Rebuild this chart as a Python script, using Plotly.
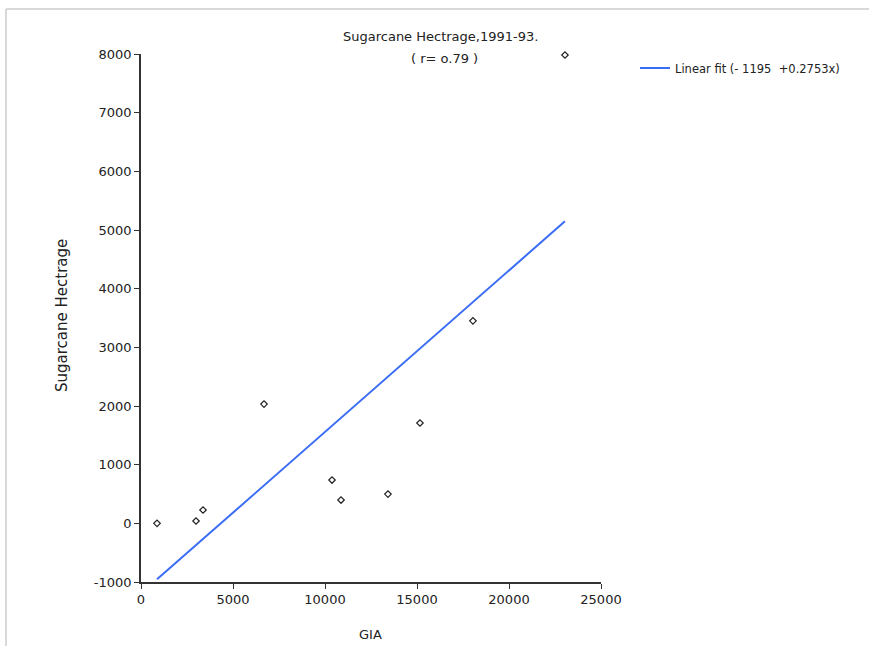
import plotly.graph_objects as go

# Data
gia = [870, 2990, 3370, 6685, 10380, 10870, 13420, 15160, 18040, 23040]
hectrage = [0, 40, 227, 2033, 738, 397, 499, 1710, 3451, 7983]

fit_x = [870, 23040]
fit_y = [-955, 5148]

x_ticks = [0, 5000, 10000, 15000, 20000, 25000]
x_labels = ["0", "5000", "10000", "15000", "20000", "25000"]
y_ticks = [-1000, 0, 1000, 2000, 3000, 4000, 5000, 6000, 7000, 8000]
y_labels = ["-1000", "0", "1000", "2000", "3000", "4000", "5000", "6000", "7000", "8000"]

W, H = 869, 646
L, R, T, B = 141, 601, 54, 582

def px(xp):
    return (xp - L) / (R - L)

def py(yp):
    return (B - yp) / (B - T)

font = "DejaVu Sans, Arial, sans-serif"

fig = go.Figure()
fig.add_trace(go.Scatter(
    x=fit_x, y=fit_y, mode="lines",
    line=dict(color="#3a6cf4", width=2),
    name="Linear fit (- 1195  +0.2753x)",
    showlegend=True, cliponaxis=False,
))
fig.add_trace(go.Scatter(
    x=gia, y=hectrage, mode="markers",
    marker=dict(symbol="diamond-open", size=5, color="#222222", line=dict(width=1.2, color="#222222")),
    showlegend=False, cliponaxis=False,
))

fig.update_layout(
    width=W, height=H,
    margin=dict(l=L, r=W - R, t=T, b=H - B, pad=0),
    paper_bgcolor="white", plot_bgcolor="white",
    font=dict(family=font, size=12, color="#222222"),
    xaxis=dict(range=[0, 25000], tickvals=x_ticks, ticktext=x_labels, ticks="outside", ticklen=5,
               tickcolor="#333333", showline=True, linecolor="#333333", linewidth=1.5,
               showgrid=False, zeroline=False, tickfont=dict(size=13)),
    yaxis=dict(range=[-1000, 8000], tickvals=y_ticks, ticktext=y_labels, ticks="outside", ticklen=5,
               tickcolor="#333333", showline=True, linecolor="#333333", linewidth=1.5,
               showgrid=False, zeroline=False, tickfont=dict(size=13)),
    legend=dict(x=px(635), y=py(68), xanchor="left", yanchor="middle",
                bgcolor="rgba(0,0,0,0)", font=dict(size=11.5), itemwidth=30,
                tracegroupgap=0),
    showlegend=True,
)

fig.add_annotation(text="Sugarcane Hectrage,1991-93.", x=px(440), y=py(37), xref="paper", yref="paper",
                   showarrow=False, xanchor="center", yanchor="middle", font=dict(size=13))
fig.add_annotation(text="( r= o.79 )", x=px(444), y=py(58), xref="paper", yref="paper",
                   showarrow=False, xanchor="center", yanchor="middle", font=dict(size=13))
fig.add_annotation(text="Sugarcane Hectrage", x=px(62), y=py(316), xref="paper", yref="paper",
                   showarrow=False, textangle=-90, xanchor="center", yanchor="middle", font=dict(size=15))
fig.add_annotation(text="GIA", x=px(370), y=py(634), xref="paper", yref="paper",
                   showarrow=False, xanchor="center", yanchor="middle", font=dict(size=13))

# outer frame lines (top and left)
fig.add_shape(type="line", xref="paper", yref="paper", x0=px(6), x1=px(869), y0=py(9), y1=py(9),
              line=dict(color="#cccccc", width=1.5))
fig.add_shape(type="line", xref="paper", yref="paper", x0=px(6), x1=px(6), y0=py(9), y1=py(646),
              line=dict(color="#cccccc", width=1.5))

fig.write_html("out.html")
